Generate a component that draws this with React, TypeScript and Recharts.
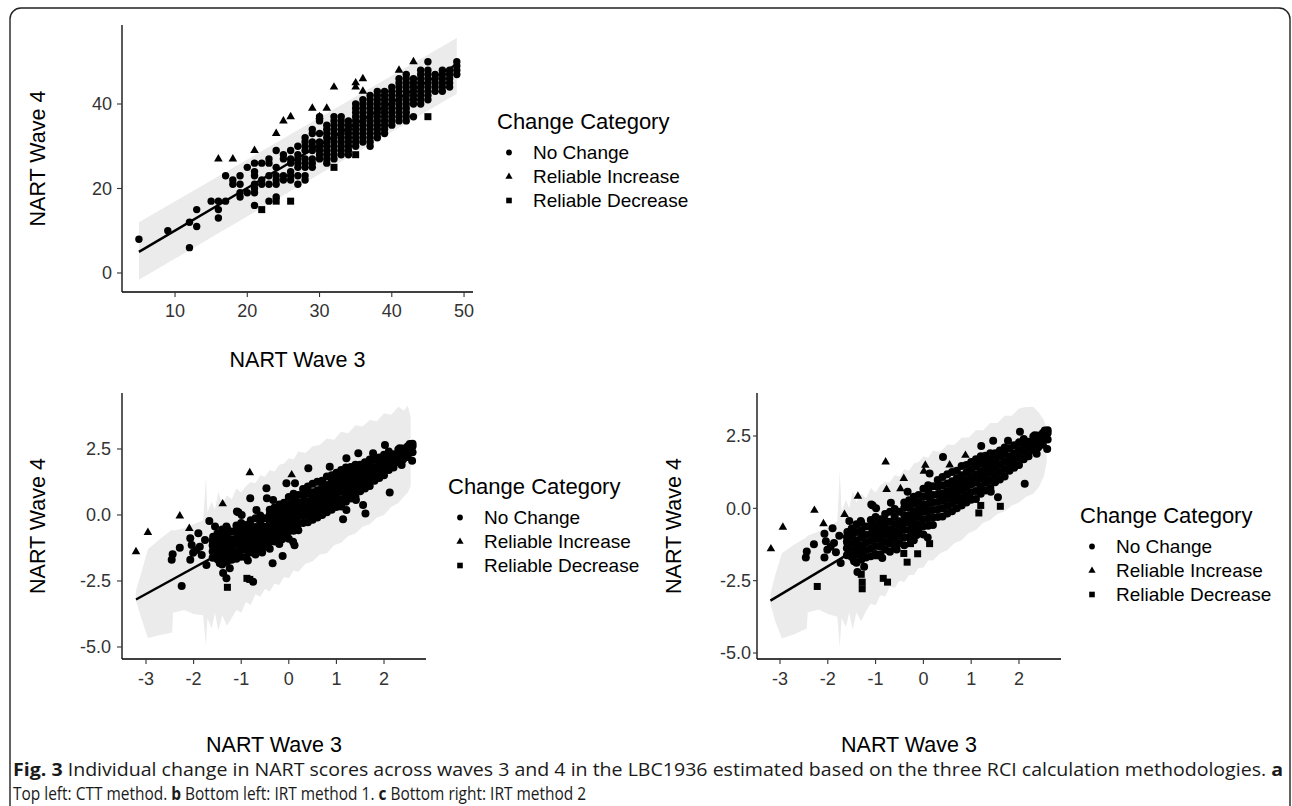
import React from "react";
import { ComposedChart, Area, Line, Scatter, XAxis, YAxis } from "recharts";

const INK = "#000000";
const TICK = "#333333";
const BAND = "#ebebeb";
const FONT = "'Liberation Sans', Arial, Helvetica, sans-serif";

// ---------- panel a: CTT method (NART scores are integers, so points stack in columns) ----------
// [wave 3 score, wave 4 scores in that column]
const cttNoChange: [number, number[]][] = [
    [5, [8]],
    [9, [10]],
    [12, [6, 12]],
    [13, [11, 15]],
    [15, [17]],
    [16, [13, 15, 17]],
    [17, [17, 23]],
    [18, [21, 22]],
    [19, [18, 19, 21, 23]],
    [20, [19, 25]],
    [21, [16, 19, 20, 21, 23, 24, 26]],
    [22, [21, 22, 26]],
    [23, [17, 21, 23, 26, 27]],
    [24, [18, 21, 22, 23, 25, 29]],
    [25, [22, 23, 27, 28]],
    [26, [22, 23, 24, 26, 27, 29]],
    [27, [21, 23, 25, 26, 27, 28, 30]],
    [28, [22, 23, 25, 26, 27, 29, 30, 31, 32]],
    [29, [25, 26, 27, 29, 30, 31, 33, 34]],
    [30, [27, 28, 29, 30, 31, 33, 36, 37]],
    [31, [26, 27, 28, 29, 30, 31, 32, 33, 34, 35]],
    [32, [27, 28, 29, 30, 31, 32, 33, 34, 35, 36, 37]],
    [33, [28, 29, 30, 31, 32, 33, 34, 35, 36, 37]],
    [34, [28, 29, 30, 31, 32, 33, 34, 35, 36]],
    [35, [30, 31, 32, 33, 34, 35, 36, 37, 38, 39, 40]],
    [36, [31, 32, 33, 34, 35, 36, 37, 38, 39, 40, 41]],
    [37, [30, 31, 32, 33, 34, 35, 36, 37, 38, 39, 40, 41, 42]],
    [38, [32, 33, 34, 35, 36, 37, 38, 39, 40, 41, 42, 43]],
    [39, [33, 34, 35, 36, 37, 38, 39, 40, 41, 42, 43]],
    [40, [35, 36, 37, 38, 39, 40, 41, 42, 43, 44]],
    [41, [36, 37, 38, 39, 40, 41, 42, 43, 44, 45, 46]],
    [42, [36, 37, 38, 39, 40, 41, 42, 43, 44, 45, 46, 47]],
    [43, [37, 40, 41, 42, 43, 44, 45, 46]],
    [44, [40, 41, 42, 43, 44, 45, 46, 47, 48]],
    [45, [41, 42, 43, 44, 45, 46, 47, 48, 50]],
    [46, [43, 44, 45, 46, 47]],
    [47, [43, 44, 45, 46, 47, 48]],
    [48, [44, 45, 46, 47, 48]],
    [49, [47, 48, 49, 50]],
];
const cttIncrease: [number, number][] = [
    [16, 27], [18, 27], [21, 29], [24, 33], [25, 36], [26, 37], [29, 39], [30, 37],
    [31, 39], [32, 44], [35, 45], [35, 44], [36, 46], [36, 43], [41, 48], [43, 50],
];
const cttDecrease: [number, number][] = [
    [22, 15], [24, 17], [26, 17], [32, 25], [35, 28], [45, 37],
];
// [wave 3, lower, upper, fitted]
const cttRibbon: number[][] = [
    [5, -1.6, 12.0, 5.0],
    [49, 42.4, 55.6, 49.4],
];

// ---------- panels b and c: IRT scores (same people, different change rule) ----------
// dense middle of the cloud, read as columns [wave 3, wave 4 values]
const irtCore: [number, number[]][] = [
    [-1.6, [-1.62, -1.38, -1.15, -0.98]],
    [-1.5, [-1.68, -1.45, -1.2, -0.95, -0.7]],
    [-1.4, [-1.88, -1.6, -1.35, -1.1, -0.82, -0.55]],
    [-1.3, [-1.78, -1.52, -1.28, -1.02, -0.76, -0.5]],
    [-1.2, [-1.7, -1.44, -1.18, -0.92, -0.63]],
    [-1.1, [-1.66, -1.4, -1.13, -0.88, -0.62, -0.4]],
    [-1.0, [-1.58, -1.3, -1.05, -0.8, -0.55, -0.3]],
    [-0.9, [-1.6, -1.33, -1.08, -0.84, -0.6, -0.38]],
    [-0.8, [-1.42, -1.16, -0.9, -0.66, -0.42, -0.2]],
    [-0.7, [-1.5, -1.22, -0.97, -0.72, -0.46, -0.12]],
    [-0.6, [-1.3, -1.04, -0.8, -0.54, -0.28, -0.02]],
    [-0.5, [-1.2, -0.94, -0.7, -0.45, -0.12]],
    [-0.4, [-1.28, -1.0, -0.74, -0.5, -0.24, 0.02, 0.2]],
    [-0.3, [-1.0, -0.75, -0.5, -0.24, 0.02, 0.28]],
    [-0.2, [-1.1, -0.84, -0.6, -0.34, -0.1, 0.16, 0.4]],
    [-0.1, [-0.8, -0.55, -0.3, -0.05, 0.2, 0.46]],
    [0.0, [-0.9, -0.62, -0.38, -0.12, 0.14, 0.4, 0.68]],
    [0.1, [-0.6, -0.35, -0.1, 0.15, 0.4, 0.62, 0.8]],
    [0.2, [-0.58, -0.32, -0.06, 0.2, 0.46, 0.76]],
    [0.3, [-0.3, -0.04, 0.22, 0.48, 0.74, 0.98]],
    [0.4, [-0.28, 0.0, 0.26, 0.52, 0.8, 1.08]],
    [0.5, [-0.18, 0.08, 0.34, 0.6, 0.86, 1.18]],
    [0.6, [-0.1, 0.16, 0.42, 0.68, 0.94, 1.26]],
    [0.7, [0.0, 0.26, 0.52, 0.78, 1.04, 1.3]],
    [0.8, [0.1, 0.36, 0.62, 0.88, 1.14, 1.46]],
    [0.9, [0.2, 0.46, 0.72, 0.98, 1.24, 1.5]],
    [1.0, [0.3, 0.56, 0.82, 1.08, 1.34, 1.6]],
    [1.1, [0.32, 0.6, 0.88, 1.16, 1.44, 1.7]],
    [1.2, [0.5, 0.76, 1.02, 1.28, 1.54, 1.8]],
    [1.3, [0.62, 0.88, 1.14, 1.4, 1.64, 1.82]],
    [1.4, [0.7, 0.96, 1.22, 1.48, 1.72, 1.9]],
    [1.5, [0.9, 1.15, 1.4, 1.65, 1.9]],
    [1.6, [1.0, 1.26, 1.52, 1.78, 2.0]],
    [1.7, [1.1, 1.36, 1.62, 1.88, 2.1]],
    [1.8, [1.3, 1.55, 1.8, 2.08]],
    [1.9, [1.4, 1.65, 1.9, 2.18]],
    [2.0, [1.5, 1.76, 2.02, 2.28]],
    [2.1, [1.7, 1.95, 2.2, 2.4]],
    [2.2, [1.8, 2.05, 2.3]],
    [2.3, [2.0, 2.24, 2.48]],
    [2.4, [2.1, 2.32, 2.52]],
    [2.5, [2.2, 2.42, 2.6]],
    [2.6, [2.38, 2.6, 2.7]],
];
// scattered "no change" points common to both IRT panels
const irtOutliers: [number, number][] = [
    [-2.44, -1.49], [-2.46, -1.7], [-2.29, -1.24], [-2.07, -0.88], [-2.04, -1.14],
    [-2.07, -1.7], [-2.01, -1.43], [-1.94, -1.33], [-1.87, -1.2], [-1.83, -1.52],
    [-1.9, -0.69], [-1.76, -0.95], [-1.73, -1.89], [-1.59, -0.82], [-1.59, -1.2],
    [-1.55, -0.44], [-1.48, -0.88], [-1.45, -1.83], [-1.38, -2.2], [-1.31, -0.44],
    [-1.24, -2.02], [-1.09, 0.13], [-1.06, 0.1], [-0.99, 0.0], [-0.68, 0.19],
    [-0.33, 0.57], [0.13, 1.2], [0.41, 1.77], [1.41, 0.57], [1.56, 0.38],
    [2.12, 0.85], [2.37, 1.89], [2.59, 2.05], [2.02, 2.65], [2.33, 2.53],
    [2.54, 2.69], [1.46, 2.34], [1.77, 2.34], [1.21, 2.15], [0.09, -1.01],
    [-0.14, -0.92], [0.83, 0.25], [-0.56, -1.42], [-0.86, -1.72],
];
// circles in panel b that are flagged as change in panel c
const irt1OnlyNoChange: [number, number][] = [
    [-2.25, -2.69], [-1.67, -0.23], [-1.31, -2.4], [-0.81, 0.63], [-0.75, -2.53],
    [-0.47, 1.01], [-0.46, 0.63], [-0.34, -1.83], [-0.13, -1.55], [-0.05, 1.2],
    [0.86, 1.83], [1.14, -0.16], [1.21, 0.19], [1.61, 0.06], [0.12, -1.15],
];
const irt1Increase: [number, number][] = [
    [-3.21, -1.39], [-2.96, -0.66], [-2.29, -0.04], [-2.09, -0.51], [-1.39, 0.42],
    [-0.82, 1.6], [0.06, 1.52],
];
const irt1Decrease: [number, number][] = [
    [-1.29, -2.74], [-0.88, -2.4], [-0.82, -2.44],
];
const irt2Increase: [number, number][] = [
    [-3.19, -1.4], [-2.94, -0.65], [-2.28, -0.07], [-2.09, -0.53], [-1.65, -0.21],
    [-1.37, 0.42], [-0.79, 1.6], [-0.77, 0.65], [-0.41, 1.03], [-0.48, 0.68],
    [0.04, 1.49], [0.01, 1.28], [0.55, 1.5], [0.88, 1.83],
];
const irt2Decrease: [number, number][] = [
    [-2.22, -2.7], [-1.3, -2.28], [-1.28, -2.55], [-1.28, -2.78], [-0.84, -2.42],
    [-0.75, -2.55], [-0.96, -1.64], [-0.41, -1.56], [-0.34, -1.86], [-0.27, -1.22],
    [-0.12, -1.57], [0.13, -1.22], [1.16, -0.16], [1.2, 0.1], [1.61, 0.07],
];
// [wave 3, lower, upper, fitted?]
const irt1Ribbon: number[][] = [
    [-3.21, -3.25, -2.85, -3.2],
    [-3.1, -3.9, -2.2], [-2.96, -4.66, -1.3], [-2.7, -4.55, -0.9], [-2.45, -4.45, -0.55],
    [-2.43, -3.7, -0.6], [-2.2, -3.6, -0.5], [-2.0, -3.75, -0.35], [-1.8, -3.8, -0.2],
    [-1.74, -4.95, 1.45], [-1.71, -3.9, 0.1], [-1.62, -4.3, 0.5], [-1.55, -3.7, 0.2],
    [-1.48, -4.4, 0.9], [-1.4, -3.8, 0.4], [-1.3, -4.2, 0.75], [-1.2, -3.9, 0.6],
    [-1.1, -3.6, 1.0], [-1.0, -3.7, 0.85], [-0.9, -3.3, 1.1], [-0.8, -3.4, 1.25],
    [-0.7, -3.0, 1.2], [-0.6, -3.1, 1.5], [-0.5, -2.8, 1.45], [-0.4, -2.9, 1.7],
    [-0.3, -2.6, 1.65], [-0.2, -2.65, 1.9], [-0.1, -2.35, 1.95], [0.0, -2.4, 2.15],
    [0.1, -2.1, 2.1], [0.2, -2.15, 2.4], [0.35, -1.85, 2.35], [0.5, -1.75, 2.6],
    [0.65, -1.5, 2.65], [0.8, -1.45, 2.9], [0.95, -1.15, 2.85], [1.1, -1.05, 3.15],
    [1.25, -0.8, 3.1], [1.4, -0.7, 3.4], [1.55, -0.45, 3.35], [1.7, -0.35, 3.6],
    [1.85, -0.1, 3.55], [2.0, 0.0, 3.85], [2.15, 0.3, 3.8], [2.3, 0.45, 4.1],
    [2.42, 0.7, 3.95], [2.5, 0.85, 4.15],
    [2.56, 1.1, 3.7, 2.5],
];
const irt2Ribbon: number[][] = [
    [-3.2, -3.3, -2.95, -3.19],
    [-3.1, -3.9, -2.3], [-2.96, -4.5, -1.55], [-2.7, -4.35, -1.25], [-2.44, -4.15, -1.0],
    [-2.42, -3.6, -0.95], [-2.2, -3.5, -0.8], [-2.0, -3.65, -0.65], [-1.8, -3.75, -0.45],
    [-1.75, -4.8, 1.3], [-1.71, -3.8, -0.1], [-1.62, -4.1, 0.3], [-1.55, -3.6, 0.0],
    [-1.48, -4.2, 0.6], [-1.4, -3.6, 0.2], [-1.3, -3.9, 0.5], [-1.2, -3.55, 0.35],
    [-1.1, -3.3, 0.7], [-1.0, -3.35, 0.55], [-0.9, -3.0, 0.8], [-0.8, -3.05, 0.9],
    [-0.7, -2.7, 0.9], [-0.6, -2.75, 1.15], [-0.5, -2.5, 1.1], [-0.4, -2.55, 1.35],
    [-0.3, -2.3, 1.3], [-0.2, -2.3, 1.55], [-0.1, -2.05, 1.6], [0.0, -2.05, 1.8],
    [0.1, -1.8, 1.75], [0.2, -1.8, 2.0], [0.35, -1.55, 1.95], [0.5, -1.45, 2.2],
    [0.65, -1.2, 2.2], [0.8, -1.1, 2.45], [0.95, -0.85, 2.45], [1.1, -0.75, 2.7],
    [1.25, -0.5, 2.7], [1.4, -0.4, 2.95], [1.55, -0.2, 2.95], [1.7, -0.1, 3.2],
    [1.85, 0.1, 3.2], [2.0, 0.2, 3.45], [2.15, 0.4, 3.5], [2.3, 0.5, 3.5],
    [2.42, 0.75, 3.3], [2.52, 1.1, 3.05],
    [2.58, 1.6, 2.75, 2.52],
];

const legendLabels = ["No Change", "Reliable Increase", "Reliable Decrease"];

// ---------- helpers ----------
type Pt = { x: number; y: number };
const pts = (pairs: [number, number][]): Pt[] => pairs.map(([x, y]) => ({ x, y }));
const cols = (columns: [number, number[]][]): Pt[] => columns.flatMap(([x, ys]) => ys.map((y) => ({ x, y })));
const ribbonRows = (rows: number[][]) =>
    rows.map((r) => ({ x: r[0], band: [r[1], r[2]], fit: r[3] ?? null }));

const dot = (r: number) => (p: any) => <circle cx={p.cx} cy={p.cy} r={r} fill={INK} />;
const tri = (s: number) => (p: any) => {
    const h = s * 0.866;
    return (
        <path
            d={`M${p.cx},${p.cy - (h * 2) / 3}L${p.cx + s / 2},${p.cy + h / 3}L${p.cx - s / 2},${p.cy + h / 3}Z`}
            fill={INK}
        />
    );
};
const sq = (s: number) => (p: any) => <rect x={p.cx - s / 2} y={p.cy - s / 2} width={s} height={s} fill={INK} />;

type TPanelProps = {
    left: number;
    top: number;
    width: number;
    height: number;
    margin: { top: number; right: number; bottom: number; left: number };
    yAxisWidth: number;
    xAxisHeight: number;
    xDomain: [number, number];
    yDomain: [number, number];
    xTicks: number[];
    yTicks: number[];
    yFmt?: (v: number) => string;
    yTickMargin: number;
    yTickSize: number;
    xTickMargin: number;
    xLabelOffset: number;
    yLabelOffset: number;
    ribbon: { x: number; band: number[]; fit: number | null }[];
    noChange: Pt[];
    increase: Pt[];
    decrease: Pt[];
    dotR: number;
};

function Panel(props: Readonly<TPanelProps>) {
    const p = props;
    return (
        <div style={{ position: "absolute", left: p.left, top: p.top }}>
            <ComposedChart width={p.width} height={p.height} margin={p.margin} data={p.ribbon}>
                <XAxis
                    dataKey="x"
                    type="number"
                    domain={p.xDomain}
                    allowDataOverflow
                    ticks={p.xTicks}
                    interval={0}
                    height={p.xAxisHeight}
                    tickSize={5}
                    tickMargin={p.xTickMargin}
                    tick={{ fontSize: 18, fill: TICK, fontFamily: FONT }}
                    tickLine={{ stroke: TICK, strokeWidth: 1.1 }}
                    axisLine={{ stroke: INK, strokeWidth: 1.3 }}
                    label={{ value: "NART Wave 3", position: "insideBottom", offset: p.xLabelOffset, fill: INK, fontSize: 21.5 }}
                />
                <YAxis
                    type="number"
                    domain={p.yDomain}
                    allowDataOverflow
                    ticks={p.yTicks}
                    interval={0}
                    width={p.yAxisWidth}
                    tickFormatter={p.yFmt}
                    tickSize={p.yTickSize}
                    tickMargin={p.yTickMargin}
                    tick={{ fontSize: 18, fill: TICK, fontFamily: FONT }}
                    tickLine={{ stroke: TICK, strokeWidth: 1.1 }}
                    axisLine={{ stroke: INK, strokeWidth: 1.3 }}
                    label={{
                        value: "NART Wave 4",
                        angle: -90,
                        position: "insideLeft",
                        offset: p.yLabelOffset,
                        fill: INK,
                        fontSize: 21.5,
                        style: { textAnchor: "middle" },
                    }}
                />
                <Area dataKey="band" type="linear" stroke="none" fill={BAND} fillOpacity={1} isAnimationActive={false} />
                <Line dataKey="fit" type="linear" stroke={INK} strokeWidth={2.4} dot={false} connectNulls isAnimationActive={false} />
                <Scatter data={p.noChange} dataKey="y" shape={dot(p.dotR)} isAnimationActive={false} />
                <Scatter data={p.increase} dataKey="y" shape={tri(8.6)} isAnimationActive={false} />
                <Scatter data={p.decrease} dataKey="y" shape={sq(7)} isAnimationActive={false} />
            </ComposedChart>
        </div>
    );
}

// legend block: x = left of title, y = vertical centre of title
function ChangeLegend({ x, y }: { x: number; y: number }) {
    const rows = [31.5, 55.5, 79.5];
    return (
        <g>
            <text x={x} y={y + 7.8} fontSize={22} fill={INK}>
                Change Category
            </text>
            {legendLabels.map((label, i) => {
                const cy = y + rows[i];
                const sx = x + 12;
                return (
                    <g key={label}>
                        {i === 0 && <circle cx={sx} cy={cy} r={2.9} fill={INK} />}
                        {i === 1 && <path d={`M${sx},${cy - 4}L${sx + 3.6},${cy + 2.3}L${sx - 3.6},${cy + 2.3}Z`} fill={INK} />}
                        {i === 2 && <rect x={sx - 2.8} y={cy - 2.8} width={5.6} height={5.6} fill={INK} />}
                        <text x={x + 36} y={cy + 6.8} fontSize={19} fill={INK}>
                            {label}
                        </text>
                    </g>
                );
            })}
        </g>
    );
}

const irtFmt = (v: number) => v.toFixed(1);

export default function App() {
    const irtNoChange = cols(irtCore).concat(pts(irtOutliers));
    return (
        <div style={{ position: "absolute", left: 0, top: 0, width: 1292, height: 806, background: "#fff", fontFamily: FONT, overflow: "hidden" }}>
            <Panel
                left={0}
                top={0}
                width={480}
                height={380}
                margin={{ top: 25, right: 7, bottom: 0, left: 0 }}
                yAxisWidth={122}
                xAxisHeight={88}
                xDomain={[2.66, 51.24]}
                yDomain={[-4.5, 58.7]}
                xTicks={[10, 20, 30, 40, 50]}
                yTicks={[0, 20, 40]}
                yTickMargin={5}
                yTickSize={5}
                xTickMargin={7}
                xLabelOffset={13}
                yLabelOffset={37}
                ribbon={ribbonRows(cttRibbon)}
                noChange={cols(cttNoChange)}
                increase={pts(cttIncrease)}
                decrease={pts(cttDecrease)}
                dotR={3.7}
            />
            <Panel
                left={0}
                top={380}
                width={440}
                height={380}
                margin={{ top: 13, right: 14, bottom: 0, left: 0 }}
                yAxisWidth={122}
                xAxisHeight={101}
                xDomain={[-3.504, 2.882]}
                yDomain={[-5.455, 4.62]}
                xTicks={[-3, -2, -1, 0, 1, 2]}
                yTicks={[-5, -2.5, 0, 2.5]}
                yFmt={irtFmt}
                yTickMargin={6}
                yTickSize={5}
                xTickMargin={8}
                xLabelOffset={8}
                yLabelOffset={37}
                ribbon={ribbonRows(irt1Ribbon)}
                noChange={irtNoChange.concat(pts(irt1OnlyNoChange))}
                increase={pts(irt1Increase)}
                decrease={pts(irt1Decrease)}
                dotR={4}
            />
            <Panel
                left={636}
                top={380}
                width={440}
                height={380}
                margin={{ top: 13, right: 15, bottom: 0, left: 0 }}
                yAxisWidth={121}
                xAxisHeight={101}
                xDomain={[-3.481, 2.879]}
                yDomain={[-5.207, 3.986]}
                xTicks={[-3, -2, -1, 0, 1, 2]}
                yTicks={[-5, -2.5, 0, 2.5]}
                yFmt={irtFmt}
                yTickMargin={2}
                yTickSize={4}
                xTickMargin={8}
                xLabelOffset={8}
                yLabelOffset={37}
                ribbon={ribbonRows(irt2Ribbon)}
                noChange={irtNoChange}
                increase={pts(irt2Increase)}
                decrease={pts(irt2Decrease)}
                dotR={4}
            />
            <svg width={1292} height={806} style={{ position: "absolute", left: 0, top: 0, pointerEvents: "none" }}>
                <rect x={10} y={8} width={1280} height={812} rx={11} fill="none" stroke="#222" strokeWidth={1.4} />
                <ChangeLegend x={497} y={121} />
                <ChangeLegend x={448} y={486} />
                <ChangeLegend x={1080} y={515} />
                <g fontFamily="'Open Sans', 'Noto Sans', sans-serif" fontSize={18} fill="#1a1a1a">
                    <text x={13} y={776} textLength={1270} lengthAdjust="spacingAndGlyphs">
                        <tspan fontWeight="bold">Fig. 3</tspan> Individual change in NART scores across waves 3 and 4 in the LBC1936 estimated based on the three RCI calculation methodologies. <tspan fontWeight="bold">a</tspan>
                    </text>
                    <g transform="translate(13,800) scale(0.86,1)">
                        <text x={0} y={0}>
                            Top left: CTT method. <tspan fontWeight="bold">b</tspan> Bottom left: IRT method 1. <tspan fontWeight="bold">c</tspan> Bottom right: IRT method 2
                        </text>
                    </g>
                </g>
            </svg>
        </div>
    );
}
